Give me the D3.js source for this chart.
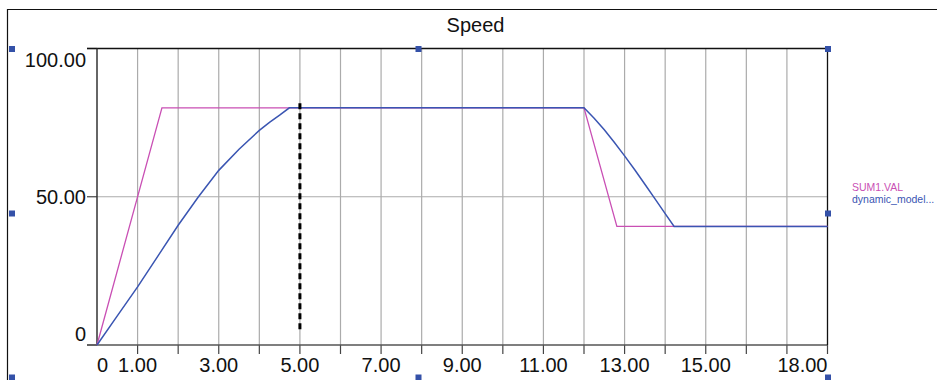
<!DOCTYPE html>
<html><head><meta charset="utf-8">
<script src="https://cdn.jsdelivr.net/npm/d3@7"></script>
<style>body{margin:0;background:#fff}svg{display:block}text{font-family:"Liberation Sans",Arial,sans-serif}</style>
</head><body><svg id="c" width="937" height="380"></svg>
<script>
const title = "Speed";
const seriesNames = ["SUM1.VAL", "dynamic_model..."];
const sumT = [0, 1.6, 12, 12.81, 18];
const sumV = [0, 80, 80, 40, 40];
const dynT = [0, 0.5, 1, 1.5, 2, 2.5, 3, 3.5, 4, 4.25, 4.5, 4.74, 12, 12.25, 12.5, 12.75, 13, 13.25, 13.5, 13.75, 14, 14.22, 18];
const dynV = [0, 9.8, 19.6, 30, 40.4, 50, 58.9, 66, 72.4, 75.1, 77.5, 80, 80, 76.5, 72.6, 68.3, 63.8, 59.1, 54.2, 49.3, 44.3, 40, 40];
const xTickVals = [0, 1, 3, 5, 7, 9, 11, 13, 15, 18];
const xTickLabels = ["0", "1.00", "3.00", "5.00", "7.00", "9.00", "11.00", "13.00", "15.00", "18.00"];
const yTickVals = [0, 50, 100];
const yTickLabels = ["0", "50.00", "100.00"];
const cursorT = 5;
const cursorRange = [0, 81.5];

const svg = d3.select("#c");
const L = 97, R = 827.5, T = 48.5, B = 345;
const x = d3.scaleLinear().domain([0, 18]).range([L, R]);
const y = d3.scaleLinear().domain([0, 100]).range([B, T]);

// outer frame
svg.append("line").attr("x1", 7).attr("x2", 937).attr("y1", 9.5).attr("y2", 9.5).attr("stroke", "#111").attr("stroke-width", 1.2);
svg.append("line").attr("x1", 7.5).attr("x2", 7.5).attr("y1", 9).attr("y2", 380).attr("stroke", "#111").attr("stroke-width", 1.2);

svg.append("text").attr("x", 475.5).attr("y", 31.5).attr("text-anchor", "middle").attr("font-size", 20).attr("fill", "#111").text(title);

// vertical grid
const gridX = d3.range(1, 18);
svg.append("g").selectAll("line").data(gridX).join("line")
  .attr("x1", d => x(d)).attr("x2", d => x(d)).attr("y1", T).attr("y2", B)
  .attr("stroke", "#ababab").attr("stroke-width", 1.2);
// horizontal grid at 50
svg.append("line").attr("x1", L).attr("x2", R).attr("y1", y(50)).attr("y2", y(50)).attr("stroke", "#ababab").attr("stroke-width", 1.2);

// x axis ticks
svg.append("g").selectAll("line").data(d3.range(1, 19)).join("line")
  .attr("x1", d => x(d)).attr("x2", d => x(d)).attr("y1", B).attr("y2", B + 9)
  .attr("stroke", "#444").attr("stroke-width", 1.2);
// y ticks
svg.append("g").selectAll("line").data(yTickVals).join("line")
  .attr("x1", 87).attr("x2", L).attr("y1", d => y(d)).attr("y2", d => y(d))
  .attr("stroke", "#444").attr("stroke-width", 1.2);

// plot border lines
svg.append("line").attr("x1", 87).attr("x2", R).attr("y1", T).attr("y2", T).attr("stroke", "#111").attr("stroke-width", 1.3);
svg.append("line").attr("x1", 87).attr("x2", R).attr("y1", B).attr("y2", B).attr("stroke", "#555").attr("stroke-width", 1.5);
svg.append("line").attr("x1", L).attr("x2", L).attr("y1", T).attr("y2", B).attr("stroke", "#333").attr("stroke-width", 1.5);
svg.append("line").attr("x1", R).attr("x2", R).attr("y1", T).attr("y2", B).attr("stroke", "#111").attr("stroke-width", 1.3);

// x labels
svg.append("g").selectAll("text").data(xTickVals).join("text")
  .attr("x", (d, i) => x(d))
  .attr("y", 371.5)
  .attr("text-anchor", (d, i) => i === 0 ? "start" : (i === xTickVals.length - 1 ? "end" : "middle"))
  .attr("font-size", 20).attr("fill", "#111")
  .text((d, i) => xTickLabels[i]);
// y labels
const yLabelY = [340.5, 203.5, 66.5];
svg.append("g").selectAll("text").data(yTickVals).join("text")
  .attr("x", 86).attr("y", (d, i) => yLabelY[i])
  .attr("text-anchor", "end").attr("font-size", 20).attr("fill", "#111")
  .text((d, i) => yTickLabels[i]);

const line = d3.line().x(d => x(d[0])).y(d => y(d[1]));
const sumData = sumT.map((t, i) => [t, sumV[i]]);
const dynData = dynT.map((t, i) => [t, dynV[i]]);
const cSum = "#c94fb4", cDyn = "#3a55b2";
svg.append("path").attr("d", line(sumData)).attr("fill", "none").attr("stroke", cSum).attr("stroke-width", 1.3);
svg.append("path").attr("d", line(dynData)).attr("fill", "none").attr("stroke", cDyn).attr("stroke-width", 1.5);

// cursor
svg.append("line").attr("x1", x(cursorT)).attr("x2", x(cursorT)).attr("y1", y(cursorRange[1])).attr("y2", y(cursorRange[0]) - 12)
  .attr("stroke", "#000").attr("stroke-width", 3).attr("stroke-dasharray", "6,4");

// legend
const leg = svg.append("g");
seriesNames.forEach((n, i) => {
  leg.append("text").attr("x", 852).attr("y", 190.5 + i * 12.5).attr("font-size", 10.5)
    .attr("fill", i === 0 ? cSum : cDyn).text(n);
});

// handles
const handles = [[12, 49], [418.5, 49], [828, 49], [12, 213.5], [828, 213.5], [12, 377.5], [418.5, 377.5], [828, 377.5]];
svg.append("g").selectAll("rect").data(handles).join("rect")
  .attr("x", d => d[0] - 3).attr("y", d => d[1] - 3).attr("width", 6).attr("height", 6).attr("fill", "#3451a8");
</script></body></html>
